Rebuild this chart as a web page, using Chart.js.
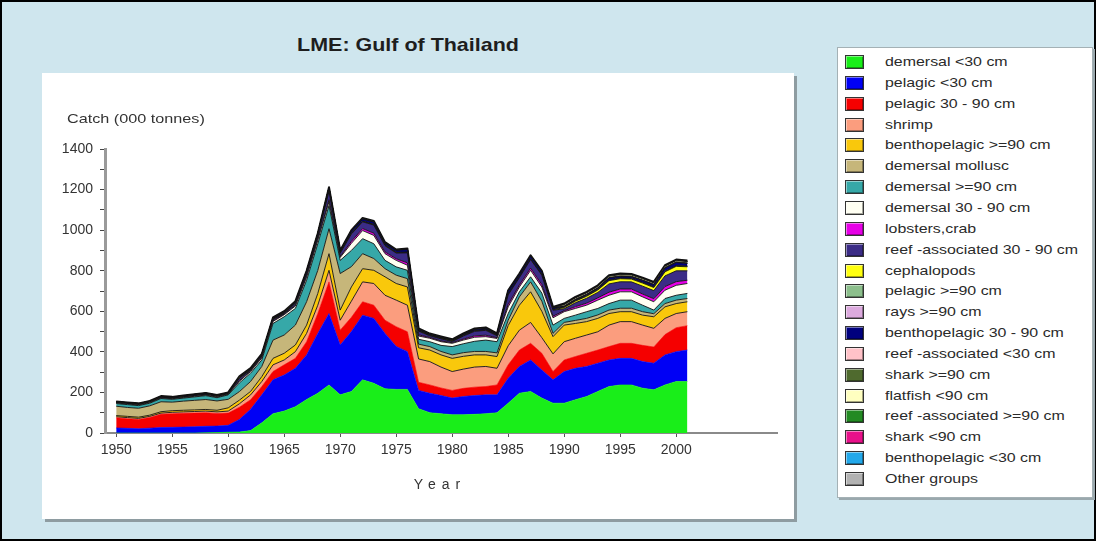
<!DOCTYPE html>
<html>
<head>
<meta charset="utf-8">
<script src="https://cdn.jsdelivr.net/npm/chart.js@4.4.0/dist/chart.umd.min.js"></script>
<style>
  html, body { margin: 0; padding: 0; }
  body { width: 1096px; height: 541px; overflow: hidden; font-family: "Liberation Sans", Arial, sans-serif; }
  #frame { position: absolute; left: 0; top: 0; width: 1096px; height: 541px; box-sizing: border-box;
           border: 2px solid #000; background: #cfe6ee; }
  #title { position: absolute; left: 206px; width: 400px; top: 32px; text-align: center;
           font-weight: bold; font-size: 19px; color: #1e1e1e; transform: scaleX(1.13); transform-origin: 50% 50%; }
  #panel { position: absolute; left: 40px; top: 71px; width: 752px; height: 446px; background: #fff;
           box-shadow: 3px 3px 0 #8e9ca1; }
  #panel canvas { position: absolute; left: 0; top: 0; }
  #legend { position: absolute; left: 835px; top: 45px; width: 256px; height: 451px; box-sizing: border-box;
            background: #fff; border: 1px solid #a4b1b5; box-shadow: 2px 2px 0 #9aa8ad; }
  .item { position: absolute; left: 7px; height: 16px; white-space: nowrap; }
  .sw { position: absolute; left: 0; top: 0; width: 19px; height: 14px; box-sizing: border-box;
        border: 1px solid #333;
        box-shadow: inset 1px 1px 0 rgba(255,255,255,0.45), inset -1px -1px 0 rgba(0,0,0,0.35); }
  .lbl { position: absolute; left: 40px; top: -1px; font-size: 13.5px; color: #2a2a2a; line-height: 16px;
         transform: scaleX(1.18); transform-origin: 0 50%; }
</style>
</head>
<body>
<div id="frame">
  <div id="title">LME: Gulf of Thailand</div>
  <div id="panel"><canvas id="c" width="752" height="446"></canvas></div>
  <div id="legend"></div>
</div>
<script>
// Years on the horizontal axis
const years = [1950,1951,1952,1953,1954,1955,1956,1957,1958,1959,1960,
  1961,1962,1963,1964,1965,1966,1967,1968,1969,1970,1971,1972,1973,1974,1975,1976,
  1977,1978,1979,1980,1981,1982,1983,1984,1985,1986,1987,1988,1989,
  1990,1991,1992,1993,1994,1995,1996,1997,1998,1999,2000,2001];

// Labelled ticks
const yearTicks = [1950,1955,1960,1965,1970,1975,1980,1985,1990,1995,2000];
const catchTicks = [0,100,200,300,400,500,600,700,800,900,1000,1100,1200,1300,1400];

const chartTitle = 'LME: Gulf of Thailand';
const yTitle = 'Catch (000 tonnes)';
const xTitle = 'Year';

// Catch by functional group, thousand tonnes (stacked bottom to top)
const demersalSmall = [0,0,0,0,0,0,0,0,1,2,4,
  5,12,50,95,108,130,165,196,237,188,205,262,245,218,215,215,
  120,100,95,90,90,92,95,100,147,196,205,172,147,
  147,164,180,205,229,237,237,221,213,237,254,254];
const pelagicSmall = [25,23,21,24,27,28,29,31,32,32,34,
  62,105,138,167,178,189,220,295,352,246,295,319,320,273,212,186,
  90,96,90,82,90,93,93,88,123,132,155,139,115,
  156,155,148,139,131,131,131,131,131,148,147,155];
const pelagicMedium = [50,47,45,52,65,67,68,67,67,62,60,
  60,47,41,41,50,49,65,98,156,73,70,66,65,65,97,98,
  40,41,37,38,40,41,41,49,66,81,82,82,41,
  57,58,65,65,66,74,74,80,80,100,118,120];
const shrimp = [5,6,6,6,6,7,7,8,8,8,10,
  17,24,25,33,24,33,41,41,57,49,80,98,107,123,131,131,
  115,115,103,93,95,99,99,82,94,98,103,77,87,
  90,90,90,90,106,107,107,100,92,80,70,69];
const benthopelagicLarge = [6,6,6,6,7,8,8,8,8,8,16,
  18,17,24,32,33,33,41,58,82,50,70,65,65,91,82,90,
  55,57,60,65,63,60,57,58,100,123,151,130,85,
  82,73,66,66,57,49,49,49,57,57,49,49];
const demersalMollusc = [46,44,44,46,49,42,45,47,49,46,42,
  42,49,50,90,90,98,115,114,123,180,100,74,58,40,41,41,
  18,17,17,17,18,17,17,18,26,41,49,50,16,
  13,15,16,17,17,17,17,17,15,16,17,16];
const demersalLarge = [13,14,13,13,16,14,15,17,19,16,22,
  43,41,32,82,90,82,106,131,114,65,80,74,73,41,41,41,
  24,24,30,41,44,50,56,55,33,25,25,40,41,
  20,26,33,32,32,40,40,32,18,25,24,25];
const demersalMedium = [3,3,3,3,3,3,3,3,3,3,3,
  8,8,10,10,10,12,15,17,19,14,35,40,41,33,32,25,
  16,17,18,16,18,20,17,16,33,24,32,30,36,
  33,33,32,41,41,41,41,41,41,41,49,49];
const lobstersCrab = [0.5,0.5,0.5,0.5,0.5,0.5,0.5,0.5,0.5,0.5,0.5,
  4,3,3,3,3,4,5,5,10,5,10,10,11,9,8,12,
  6,4,4,3,5,7,7,4,12,10,11,12,8,
  5,9,10,11,15,14,14,14,15,18,18,16];
const reefMedium = [2,2,2.5,2.5,3,3,3.5,4,4,4,2,
  10,4,6,6,4,9,14,16,41,16,36,33,40,30,28,49,
  18,8,10,6,15,22,24,9,47,36,42,46,29,
  9.5,19,24,27,41,35.5,35,39,40,52.5,53.5,46.5];
const cephalopods = [0.5,0.5,0.5,0.5,0.5,0.5,0.5,0.5,0.5,0.5,0.5,
  2,2,2,2,2,2,2,2,2,2,2,2,2,2,2,2,
  2,2,2,2,2,2,2,2,2,2,2,2,2,
  6,8,10,12,16,15,14,15,15,20,22,20];
const pelagicLarge = [0.5,0.5,0.5,0.5,0.5,0.5,0.5,0.5,0.5,0.5,0.5,
  1,1,1,1,1,1,1,1,1,1,1,1,1,1,1,1,
  1,1,1,1,1,1,1,1,1,1,1,1,1,
  2,2,2,2,2,2,2,2,2,2,2,2];
const raysLarge = [0.3,0.3,0.3,0.3,0.3,0.3,0.3,0.3,0.3,0.3,0.3,
  0.5,0.5,0.5,0.5,0.5,0.5,0.5,0.5,0.5,0.5,0.5,0.5,0.5,0.5,0.5,0.5,
  0.5,0.5,0.5,0.5,0.5,0.5,0.5,0.5,0.5,0.5,0.5,0.5,0.5,
  1.5,1.5,1.5,1.5,1.5,1.5,1.5,1.5,1.5,1.5,1.5,1.5];
const benthopelagicMedium = [1,1,1,1,1.5,1.5,1.5,2,2,2,2.5,
  2,1,2,2,1.5,2,4,5,12,5,10,10,11,9,9,13,
  5,2.5,3,2,4,6,6,3,14,11,12,13,8,
  1.5,3,4,5,9,7.5,7,9,10,14.5,15.5,12.5];
const reefSmall = [0.3,0.3,0.3,0.3,0.3,0.3,0.3,0.3,0.3,0.3,0.3,
  0.5,0.5,0.5,0.5,0.5,0.5,0.5,0.5,0.5,0.5,0.5,0.5,0.5,0.5,0.5,0.5,
  0.5,0.5,0.5,0.5,0.5,0.5,0.5,0.5,0.5,0.5,0.5,0.5,0.5,
  1,1,1,1,1,1,1,1,1,1,1,1];
const sharkLarge = [0.5,0.5,0.5,0.5,0.5,0.5,0.5,0.5,0.5,0.5,0.5,
  1,1,1,1,1,1,1,1,1,1,1,1,1,1,1,1,
  1,1,1,1,1,1,1,1,1,1,1,1,1,
  2,2,2,2,2,2,2,2,2,2,2,2];
const flatfish = [0.3,0.3,0.3,0.3,0.3,0.3,0.3,0.3,0.3,0.3,0.3,
  1,1,1,1,1,1,1,1,1,1,1,1,1,1,1,1,
  1,1,1,1,1,1,1,1,1,1,1,1,1,
  6,6,6,6,6,6,6,6,6,6,6,6];
const reefLarge = [0.3,0.3,0.3,0.3,0.3,0.3,0.3,0.3,0.3,0.3,0.3,
  0.5,0.5,0.5,0.5,0.5,0.5,0.5,0.5,0.5,0.5,0.5,0.5,0.5,0.5,0.5,0.5,
  0.5,0.5,0.5,0.5,0.5,0.5,0.5,0.5,0.5,0.5,0.5,0.5,0.5,
  1,1,1,1,1,1,1,1,1,1,1,1];
const sharkSmall = [0.3,0.3,0.3,0.3,0.3,0.3,0.3,0.3,0.3,0.3,0.3,
  0.5,0.5,0.5,0.5,0.5,0.5,0.5,0.5,0.5,0.5,0.5,0.5,0.5,0.5,0.5,0.5,
  0.5,0.5,0.5,0.5,0.5,0.5,0.5,0.5,0.5,0.5,0.5,0.5,0.5,
  1,1,1,1,1,1,1,1,1,1,1,1];
const benthopelagicSmall = [0.1,0.1,0.1,0.1,0.1,0.1,0.1,0.1,0.1,0.1,0.1,
  0.2,0.2,0.2,0.2,0.2,0.2,0.2,0.2,0.2,0.2,0.2,0.2,0.2,0.2,0.2,0.2,
  0.2,0.2,0.2,0.2,0.2,0.2,0.2,0.2,0.2,0.2,0.2,0.2,0.2,
  0.5,0.5,0.5,0.5,0.5,0.5,0.5,0.5,0.5,0.5,0.5,0.5];
const otherGroups = [1,1,1,1,1,1,1,1,1,1,1,
  1.5,1.5,1.5,1.5,1.5,1.5,1.5,1.5,1.5,1.5,1.5,1.5,1.5,1.5,1.5,1.5,
  1.5,1.5,1.5,1.5,1.5,1.5,1.5,1.5,1.5,1.5,1.5,1.5,1.5,
  3,3,3,3,3,3,3,3,3,3,3,3];

const groupNames = ['demersal <30 cm','pelagic <30 cm','pelagic 30 - 90 cm','shrimp',
  'benthopelagic >=90 cm','demersal mollusc','demersal >=90 cm','demersal 30 - 90 cm',
  'lobsters,crab','reef -associated 30 - 90 cm','cephalopods','pelagic >=90 cm','rays >=90 cm',
  'benthopelagic 30 - 90 cm','reef -associated <30 cm','shark >=90 cm','flatfish <90 cm',
  'reef -associated >=90 cm','shark <90 cm','benthopelagic <30 cm','Other groups'];
const groupValues = [demersalSmall, pelagicSmall, pelagicMedium, shrimp, benthopelagicLarge,
  demersalMollusc, demersalLarge, demersalMedium, lobstersCrab, reefMedium, cephalopods,
  pelagicLarge, raysLarge, benthopelagicMedium, reefSmall, sharkLarge, flatfish, reefLarge,
  sharkSmall, benthopelagicSmall, otherGroups];
const groupColors = ['#19ee19','#0000f5','#f50000','#fb9d7e','#f9c80c','#c6b67a','#36a8a8','#fffff2',
  '#e600e6','#3b2c86','#ffff10','#8cbf8c','#dcaade','#00007e','#ffc2c8','#4f6a2e','#ffffc0',
  '#238a23','#e8118a','#22a8ea','#b2b2b2'];

document.getElementById('title').textContent = chartTitle;

// HTML legend listing the groups in stacking order
const legendEl = document.getElementById('legend');
groupNames.forEach((name, i) => {
  const item = document.createElement('div');
  item.className = 'item';
  item.style.top = (7 + i * 20.85) + 'px';
  const sw = document.createElement('div');
  sw.className = 'sw';
  sw.style.background = groupColors[i];
  const lbl = document.createElement('div');
  lbl.className = 'lbl';
  lbl.textContent = name;
  item.appendChild(sw);
  item.appendChild(lbl);
  legendEl.appendChild(item);
});

const lastIndex = groupNames.length - 1;
const datasets = groupNames.map((name, i) => ({
  label: name,
  data: years.map((yr, k) => ({ x: yr, y: groupValues[i][k] })),
  backgroundColor: groupColors[i],
  borderColor: i < 3 ? groupColors[i] : '#111',
  borderWidth: i < 3 ? 0.6 : (i === lastIndex ? 2 : 0.9),
  fill: i === 0 ? 'origin' : '-1',
  pointRadius: 0,
  tension: 0
}));

const FONT = '"Liberation Sans", Arial, sans-serif';

// Axis captions: horizontal caption above the value axis, spaced caption under the year axis
const axisCaptions = {
  id: 'axisCaptions',
  afterDraw(chart) {
    const { ctx, chartArea, scales } = chart;
    ctx.save();
    ctx.fillStyle = '#333';
    ctx.font = '13.5px ' + FONT;
    ctx.textBaseline = 'middle';
    ctx.textAlign = 'left';
    const yx = chartArea.left - 38, yy = scales.y.getPixelForValue(1400) - 30;
    ctx.translate(yx, yy);
    ctx.scale(1.2, 1);
    ctx.fillText(yTitle, 0, 0);
    ctx.setTransform(1, 0, 0, 1, 0, 0);
    ctx.font = '14px ' + FONT;
    ctx.letterSpacing = '6px';
    ctx.textAlign = 'center';
    ctx.fillText(xTitle, (chartArea.left + chartArea.right) / 2 - 1, chartArea.bottom + 52);
    ctx.restore();
  }
};

new Chart(document.getElementById('c'), {
  type: 'line',
  data: { datasets },
  plugins: [axisCaptions],
  options: {
    responsive: false,
    animation: false,
    layout: { padding: { top: 76, right: 17, left: 0, bottom: 0 } },
    plugins: { legend: { display: false }, tooltip: { enabled: false }, filler: { propagate: false } },
    elements: { line: { borderJoinStyle: 'round' } },
    scales: {
      x: {
        type: 'linear', min: 1949, max: 2009,
        afterBuildTicks: s => { s.ticks = yearTicks.map(v => ({ value: v })); },
        afterFit: s => { s.height = 86; },
        ticks: { callback: v => String(v), color: '#333', font: { size: 14, family: FONT }, padding: 5, maxRotation: 0, autoSkip: false },
        grid: { drawOnChartArea: false, drawTicks: true, tickLength: 4, color: '#555' },
        border: { display: true, color: '#8a8a8a', width: 2 }
      },
      y: {
        stacked: true, min: 0, max: 1400,
        afterBuildTicks: s => { s.ticks = catchTicks.map(v => ({ value: v })); },
        afterFit: s => { s.width = 63; },
        ticks: { callback: v => (v % 200 === 0 ? String(v) : ''), color: '#333', font: { size: 14, family: FONT }, padding: 7, autoSkip: false },
        grid: { drawOnChartArea: false, drawTicks: true, tickLength: 5, color: '#444' },
        border: { display: true, color: '#9a9a9a', width: 3 }
      }
    }
  }
});
</script>
</body>
</html>
